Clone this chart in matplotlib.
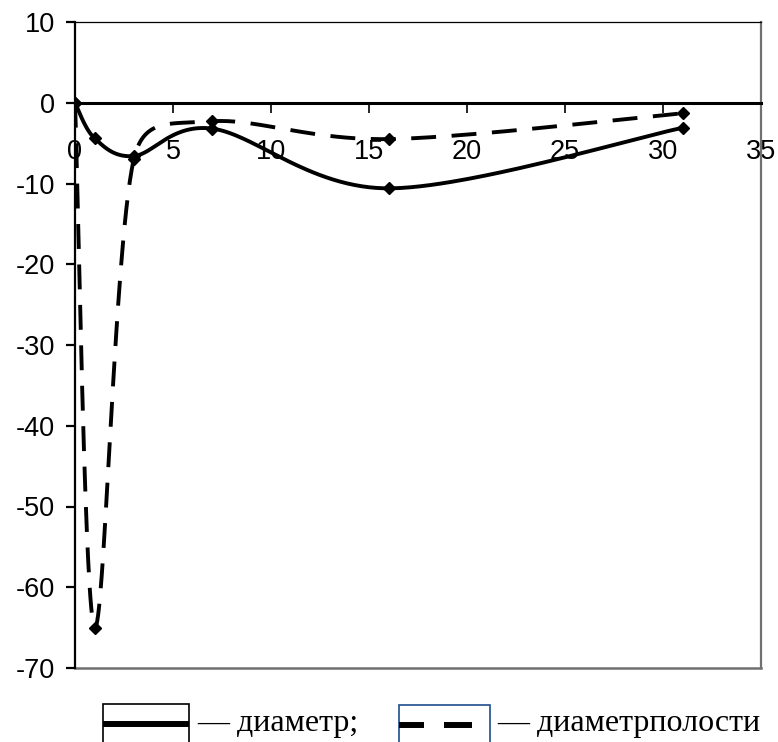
import matplotlib.pyplot as plt
import numpy as np
from matplotlib.patches import Rectangle
from matplotlib.lines import Line2D

# days vs. change, %
days = [0, 1, 3, 7, 16, 31]
diameter = [0, -4.4, -6.6, -3.2, -10.6, -3.1]
cavity = [0, -65, -7, -2.3, -4.5, -1.3]

x_ticks = [0, 5, 10, 15, 20, 25, 30, 35]
y_ticks = [-70, -60, -50, -40, -30, -20, -10, 0, 10]

W, H = 778, 742
ax_box = [75, 22, 761, 668]  # left, top, right, bottom in pixels

plt.rcParams['axes.unicode_minus'] = False


def excel_smooth(x, y, sx, sy, n=60):
    # bezier smoothing like Excel's "smoothed line", done in pixel space
    P = np.column_stack([np.asarray(x, float) * sx, np.asarray(y, float) * sy])
    out = []
    t = np.linspace(0, 1, n)[:, None]
    for i in range(len(P) - 1):
        p0 = P[max(i - 1, 0)]
        p1 = P[i]
        p2 = P[i + 1]
        p3 = P[min(i + 2, len(P) - 1)]
        half = np.hypot(*(p2 - p1)) / 2
        d1 = (p2 - p0) / 6
        d2 = (p3 - p1) / 6
        l1, l2 = np.hypot(*d1), np.hypot(*d2)
        if l1 > half:
            d1 = d1 * half / l1
        if l2 > half:
            d2 = d2 * half / l2
        c1 = p1 + d1
        c2 = p2 - d2
        seg = ((1 - t) ** 3) * p1 + 3 * ((1 - t) ** 2) * t * c1 + 3 * (1 - t) * t ** 2 * c2 + t ** 3 * p2
        out.append(seg if i == 0 else seg[1:])
    out = np.vstack(out)
    return out[:, 0] / sx, out[:, 1] / sy


fig = plt.figure(figsize=(W / 100, H / 100), dpi=100)
l, tp, r, b = ax_box
ax = fig.add_axes([l / W, (H - b) / H, (r - l) / W, (b - tp) / H])

sx = (r - l) / 35.0
sy = (b - tp) / 80.0

xs, ys = excel_smooth(days, diameter, sx, sy)
ax.plot(xs, ys, color='black', lw=2.8, solid_capstyle='round')
ax.plot(days, diameter, 'D', color='black', markersize=6)

xs, ys = excel_smooth(days, cavity, sx, sy)
ax.plot(xs, ys, color='black', lw=2.8, dashes=(6.4, 4.0), dash_capstyle='butt')
ax.plot(days, cavity, 'D', color='black', markersize=6)

ax.set_xlim(0, 35)
ax.set_ylim(-70, 10)
ax.set_xticks(x_ticks)
ax.set_yticks(y_ticks)

ax.spines['bottom'].set_position(('data', 0))
ax.spines['bottom'].set_linewidth(2.2)
ax.spines['left'].set_linewidth(1.6)
ax.spines['top'].set_linewidth(0.9)
ax.spines['right'].set_color('#707070')
ax.spines['right'].set_linewidth(1.6)
ax.axhline(-70, color='#707070', lw=1.8, clip_on=False, zorder=0.5)

ax.tick_params(axis='y', direction='out', length=6.5, width=1.6, pad=8, labelsize=19.5)
ax.tick_params(axis='x', direction='out', length=7, width=1.2, pad=19, labelsize=19.5)
for lab in ax.get_xticklabels() + ax.get_yticklabels():
    lab.set_fontfamily('Liberation Sans')

# legend drawn below the plot
def px(x, y):
    return x / W, (H - y) / H

fig.add_artist(Rectangle(px(103, 760), 86 / W, 56 / H, transform=fig.transFigure,
                         fill=False, edgecolor='black', lw=1.2))
fig.add_artist(Line2D([103 / W, 189 / W], [px(0, 724)[1]] * 2, transform=fig.transFigure,
                      color='black', lw=4.3, solid_capstyle='butt'))
fig.add_artist(Rectangle(px(399, 760), 91 / W, 55 / H, transform=fig.transFigure,
                         fill=False, edgecolor='#1f4e8c', lw=1.2))
for x0, x1 in [(399, 424), (444, 472)]:
    fig.add_artist(Line2D([x0 / W, x1 / W], [px(0, 725)[1]] * 2, transform=fig.transFigure,
                          color='black', lw=4.3, solid_capstyle='butt'))

fig.text(*px(197, 731), '— диаметр;', fontsize=23, family='Liberation Serif',
         ha='left', va='baseline')
fig.text(*px(497, 731), '— диаметрполости', fontsize=23, family='Liberation Serif',
         ha='left', va='baseline')

fig.savefig('out.png', dpi=100)
